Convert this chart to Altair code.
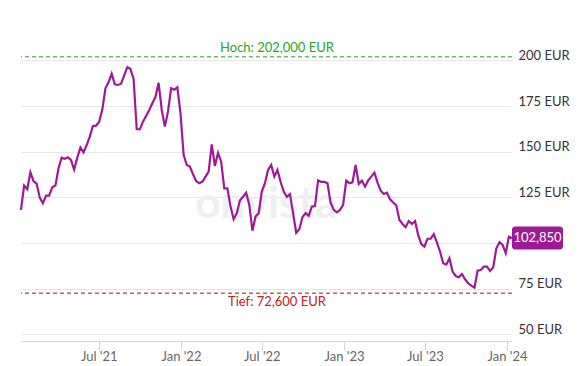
import altair as alt
import pandas as pd

# Weekly closing prices (EUR)
values = [
    118.2, 131.5, 129.5, 138.8, 134.0, 132.6, 124.9, 121.8, 126.0, 126.0,
    130.6, 131.5, 141.0, 146.8, 146.2, 147.0, 145.4, 140.2, 146.8, 152.3,
    149.7, 153.7, 158.3, 164.1, 164.3, 166.5, 173.1, 184.8, 188.1, 192.8,
    187.0, 186.6, 187.3, 191.8, 196.4, 195.3, 189.9, 162.5, 162.3, 166.5,
    169.6, 172.9, 176.6, 180.0, 187.8, 172.9, 163.8, 172.0, 184.8, 184.0,
    185.3, 171.1, 148.3, 142.8, 141.9, 137.7, 134.0, 132.8, 133.6, 136.4,
    139.1, 154.1, 142.2, 149.4, 144.6, 130.0, 130.0, 120.0, 113.1, 116.4,
    123.3, 125.4, 127.6, 120.9, 106.8, 114.5, 116.4, 128.2, 132.8, 140.1,
    142.8, 136.4, 140.1, 133.6, 128.2, 125.4, 126.8, 116.4, 105.7, 107.6,
    114.2, 116.4, 114.9, 120.0, 120.3, 134.3, 133.5, 133.5, 132.8, 122.2,
    118.2, 116.9, 118.2, 120.9, 134.2, 132.8, 133.3, 142.8, 132.4, 134.2,
    130.9, 134.2, 136.4, 138.6, 133.1, 128.7, 126.9, 127.6, 124.0, 122.2,
    120.7, 112.7, 110.5, 108.7, 112.1, 110.5, 112.1, 104.5, 99.5, 98.1,
    102.4, 102.4, 104.9, 100.3, 95.3, 89.0, 88.2, 91.7, 84.4, 82.0,
    81.3, 83.1, 80.2, 78.0, 76.7, 75.6, 84.9, 85.3, 87.1, 87.1,
    84.8, 86.8, 97.2, 100.5, 99.0, 94.5, 103.5, 102.85,
]
start_date = "2021-01-08"
end_date = "2024-01-12"

high_value = 202.0
high_label = "Hoch: 202,000 EUR"
low_value = 72.6
low_label = "Tief: 72,600 EUR"
last_label = "102,850"
label_date = "2022-08-04"
watermark_date = "2022-07-11"
watermark_value = 121

y_ticks = [50, 75, 100, 125, 150, 175, 200]
hidden_y_label = 100  # covered by the last-price box in the reference
x_ticks = ["2021-07-01", "2022-01-01", "2022-07-01", "2023-01-01", "2023-07-01", "2024-01-01"]

dates = pd.date_range(start_date, periods=len(values), freq="7D")
df = pd.DataFrame({"date": dates, "value": values})
last_df = df.tail(1).assign(label=last_label)
lines_df = pd.DataFrame({
    "value": [high_value, low_value],
    "label": [high_label, low_label],
    "date": pd.to_datetime([label_date, label_date]),
})
wm_df = pd.DataFrame({"date": pd.to_datetime([watermark_date]), "value": [watermark_value], "label": ["onvista"]})

FONT = "Lato"
PURPLE = "#9c1b95"

x_scale = alt.Scale(domain=[start_date, end_date])
y_scale = alt.Scale(domain=[46.4, 216.7], nice=False, zero=False)

x_enc = alt.X(
    "date:T", scale=x_scale, title=None,
    axis=alt.Axis(
        values=x_ticks, format="%b '%y", grid=False,
        domainColor="#ccd6eb", tickColor="#ccd6eb", tickSize=9,
        labelColor="#666666", labelFont=FONT, labelFontSize=13, labelPadding=0,
    ),
)
y_enc = alt.Y(
    "value:Q", scale=y_scale, title=None,
    axis=alt.Axis(
        orient="right", values=y_ticks,
        labelExpr=f"datum.value == {hidden_y_label} ? '' : datum.value + ' EUR'",
        grid=True, gridColor="#e6e6e6", ticks=False, domain=False,
        labelColor="#333333", labelFont=FONT, labelFontSize=13, labelPadding=6,
        labelBaseline="alphabetic", labelOffset=-1,
    ),
)

watermark = alt.Chart(wm_df).mark_text(
    font=FONT, fontSize=44, fontWeight="bold", color="#efefef", baseline="middle"
).encode(x="date:T", y="value:Q", text="label:N")

line = alt.Chart(df).mark_line(color=PURPLE, strokeWidth=2.2).encode(x=x_enc, y=y_enc)

high_rule = alt.Chart(lines_df.iloc[[0]]).mark_rule(
    color="#1f9e1f", strokeDash=[4, 3], strokeWidth=1
).encode(y="value:Q")
low_rule = alt.Chart(lines_df.iloc[[1]]).mark_rule(
    color="#a30f0f", strokeDash=[4, 3], strokeWidth=1
).encode(y="value:Q")

high_text = alt.Chart(lines_df.iloc[[0]]).mark_text(
    font=FONT, fontSize=13, color="#2aa52a", baseline="bottom", dy=-2
).encode(x="date:T", y="value:Q", text="label:N")
low_text = alt.Chart(lines_df.iloc[[1]]).mark_text(
    font=FONT, fontSize=13, color="#c42020", baseline="top", dy=3
).encode(x="date:T", y="value:Q", text="label:N")

last_box = alt.Chart(last_df).mark_rect(
    color=PURPLE, width=51, height=23, xOffset=25.5, cornerRadius=3
).encode(x="date:T", y="value:Q")
last_text = alt.Chart(last_df).mark_text(
    font=FONT, fontSize=13, color="white", xOffset=25.5, baseline="middle"
).encode(x="date:T", y="value:Q", text="label:N")

chart = alt.layer(
    watermark, line, high_rule, low_rule, high_text, low_text, last_box, last_text
).properties(
    width=491, height=311,
    autosize=alt.AutoSizeParams(type="none"),
    padding={"left": 13, "top": 22, "right": 60, "bottom": 26},
).configure(background="white").configure_view(stroke=None)

chart.save("out.html", embed_options={"renderer": "svg", "actions": False})
